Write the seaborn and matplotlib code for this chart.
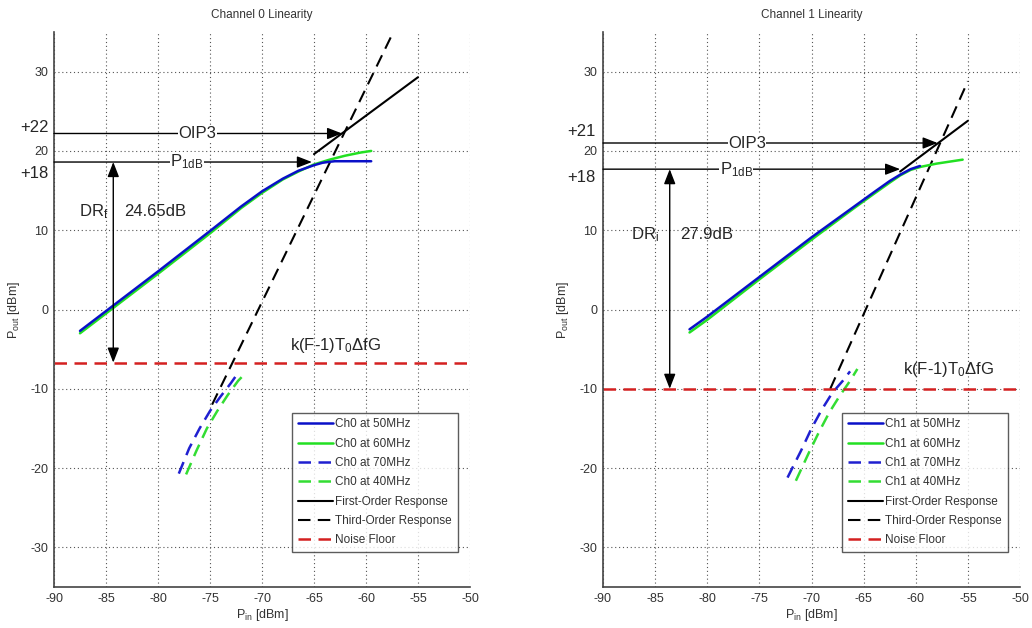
import numpy as np
import pandas as pd
import matplotlib
matplotlib.use("Agg")
import matplotlib.pyplot as plt
import seaborn as sns

# ---------------- data ----------------
# Channel 0
ch0_x_50 = [-87.5, -85, -80, -75, -72, -70, -68, -66.5, -65, -64.2, -63.7, -63, -61, -59.5]
ch0_y_50 = [-2.7, -0.2, 4.8, 9.9, 13.0, 14.9, 16.5, 17.5, 18.2, 18.5, 18.6, 18.7, 18.7, 18.7]
ch0_x_60 = [-87.5, -85, -80, -75, -72, -70, -68, -66.5, -65, -63.5, -62, -60.5, -59.5]
ch0_y_60 = [-3.0, -0.5, 4.5, 9.6, 12.8, 14.7, 16.4, 17.4, 18.3, 18.9, 19.4, 19.8, 20.0]
ch0_x_70 = [-78.0, -77.0, -76.0, -75.0, -74.0, -73.0, -72.3]
ch0_y_70 = [-20.7, -17.5, -15.0, -12.8, -11.0, -9.3, -8.0]
ch0_x_40 = [-77.3, -76.3, -75.3, -74.3, -73.3, -72.3, -71.5]
ch0_y_40 = [-20.8, -17.8, -15.0, -12.8, -10.8, -9.0, -7.9]
ch0_first_x = [-65.0, -55.0]
ch0_first_y = [19.6, 29.3]
ch0_third_x = [-74.8, -57.0]
ch0_third_y = [-12.0, 36.0]
ch0_noise = -6.7
ch0_oip3 = (-62.3, 22.2)
ch0_p1db = (-65.2, 18.6)
ch0_dr_x = -84.3
ch0_dr_text = "24.65dB"

# Channel 1
ch1_x_50 = [-81.7, -80, -75, -70, -66, -64, -62.5, -61.5, -60.5, -59.6]
ch1_y_50 = [-2.5, -0.9, 4.1, 9.1, 12.9, 14.8, 16.2, 17.0, 17.7, 18.1]
ch1_x_60 = [-81.7, -80, -75, -70, -66, -64, -62.5, -61.5, -60.5, -59.5, -58, -56.5, -55.5]
ch1_y_60 = [-2.9, -1.3, 3.8, 8.8, 12.7, 14.6, 16.0, 16.9, 17.6, 18.0, 18.4, 18.7, 18.9]
ch1_x_70 = [-72.3, -71.0, -70.0, -69.0, -68.0, -67.0, -66.3]
ch1_y_70 = [-21.2, -17.8, -15.0, -12.6, -10.5, -9.0, -7.8]
ch1_x_40 = [-71.5, -70.3, -69.3, -68.3, -67.3, -66.3, -65.6]
ch1_y_40 = [-21.6, -18.2, -15.5, -13.0, -10.9, -9.0, -7.5]
ch1_first_x = [-61.5, -55.0]
ch1_first_y = [17.4, 23.8]
ch1_third_x = [-68.2, -55.0]
ch1_third_y = [-10.0, 28.8]
ch1_noise = -10.0
ch1_oip3 = (-57.9, 21.0)
ch1_p1db = (-61.5, 17.7)
ch1_dr_x = -83.6
ch1_dr_text = "27.9dB"

x_ticks = [-90, -85, -80, -75, -70, -65, -60, -55, -50]
y_ticks = [-30, -20, -10, 0, 10, 20, 30]

# ---------------- style ----------------
sns.set_style("white")
plt.rcParams['font.family'] = ['Liberation Sans Narrow', 'Liberation Sans', 'DejaVu Sans']
plt.rcParams['mathtext.fontset'] = 'custom'
plt.rcParams['mathtext.rm'] = 'Liberation Sans'
plt.rcParams['mathtext.it'] = 'Liberation Sans'

fig = plt.figure(figsize=(10.32, 6.28), dpi=100)
axL = fig.add_axes([54/1032, 1-587/628, (470-54)/1032, (587-32)/628])
axR = fig.add_axes([603/1032, 1-587/628, (1020-603)/1032, (587-32)/628])

BLUE = "#0a10c8"
GREEN = "#22e022"
DBLUE = "#2020d0"
LGREEN = "#33dd33"


def draw(ax, ch, xs50, ys50, xs60, ys60, xs70, ys70, xs40, ys40,
         fx, fy, tx, ty, noise, oip3, p1db, drx, drtext,
         oip_lbl, oip_lbl_y, p1_lbl, p1_lbl_y, dr_lbl, dr_y, k_pos, title):
    def line(xs, ys, color, ls, label, lw=1.8, z=2):
        df = pd.DataFrame({"x": xs, "y": ys})
        sns.lineplot(data=df, x="x", y="y", ax=ax, color=color, linestyle=ls,
                     linewidth=lw, label=label, sort=False, estimator=None, zorder=z)

    line(xs50, ys50, BLUE, "-", f"Ch{ch} at 50MHz", z=3)
    line(xs60, ys60, GREEN, "-", f"Ch{ch} at 60MHz", z=2.5)
    line(xs70, ys70, DBLUE, (0, (5, 3)), f"Ch{ch} at 70MHz")
    line(xs40, ys40, LGREEN, (0, (5, 3)), f"Ch{ch} at 40MHz")
    line(fx, fy, "black", "-", "First-Order Response", lw=1.5)
    line(tx, ty, "black", (0, (6, 3.5)), "Third-Order Response", lw=1.5)
    dfn = pd.DataFrame({"x": [-90, -50], "y": [noise, noise]})
    sns.lineplot(data=dfn, x="x", y="y", ax=ax, color="#d42020",
                 linestyle=(0, (5, 3)), linewidth=1.8, label="Noise Floor",
                 sort=False, estimator=None)

    ax.set_xlim(-90, -50)
    ax.set_ylim(-35, 35)
    ax.set_xticks(x_ticks)
    ax.set_yticks(y_ticks)
    ax.set_xticklabels([str(t) for t in x_ticks])
    ax.set_yticklabels([str(t) for t in y_ticks])
    ax.grid(True, linestyle=(0, (1, 2.5)), color="#555555", linewidth=0.8)
    ax.set_axisbelow(True)
    for s in ["top", "right"]:
        ax.spines[s].set_visible(False)
    for s in ["left", "bottom"]:
        ax.spines[s].set_color("#444444")
        ax.spines[s].set_linewidth(1.2)
    ax.tick_params(axis="both", labelsize=9, direction="in", length=3,
                   color="#444444", labelcolor="#333333", pad=4)
    ax.set_xlabel("P$_{\\mathrm{in}}$ [dBm]", fontsize=9, color="#333333", labelpad=2)
    ax.set_ylabel("P$_{\\mathrm{out}}$ [dBm]", fontsize=9, color="#333333", labelpad=6)
    ax.set_title(title, fontsize=8.5, color="#333333", pad=10)

    arrow = dict(arrowstyle="-|>,head_length=0.9,head_width=0.35", color="black",
                 lw=1.0, shrinkA=0, shrinkB=0)
    # OIP3 arrow
    ax.annotate("", xy=oip3, xytext=(-90, oip3[1]), arrowprops=arrow)
    ax.text(-76.2, oip3[1], "OIP3", fontsize=12, ha="center", va="center",
            family=["Liberation Sans", "DejaVu Sans"],
            bbox=dict(facecolor="white", edgecolor="none", pad=0.3))
    # P1dB arrow
    ax.annotate("", xy=p1db, xytext=(-90, p1db[1]), arrowprops=arrow)
    ax.text(-77.2, p1db[1], "P$_{\\mathrm{1dB}}$", fontsize=12, ha="center", va="center",
            family=["Liberation Sans", "DejaVu Sans"],
            bbox=dict(facecolor="white", edgecolor="none", pad=0.3))
    # dynamic range arrow
    ax.annotate("", xy=(drx, noise), xytext=(drx, p1db[1]),
                arrowprops=dict(arrowstyle="<|-|>,head_length=0.9,head_width=0.35",
                                color="black", lw=1.0, shrinkA=0, shrinkB=0))
    ax.text(dr_lbl, dr_y, "DR$_{\\mathrm{f}}$" if ch == 0 else "DR$_{\\mathrm{i}}$",
            fontsize=12, ha="left", va="center", family=["Liberation Sans", "DejaVu Sans"])
    ax.text(drx + 1.0, dr_y, drtext, fontsize=12, ha="left", va="center",
            family=["Liberation Sans", "DejaVu Sans"])
    ax.text(k_pos[0], k_pos[1], "k(F-1)T$_{0}$ΔfG", fontsize=12, ha="left", va="center",
            family=["Liberation Sans", "DejaVu Sans"])
    # side labels
    ax.text(oip_lbl[0], oip_lbl_y, oip_lbl[1], fontsize=12, ha="right", va="center",
            clip_on=False, family=["Liberation Sans", "DejaVu Sans"])
    ax.text(p1_lbl[0], p1_lbl_y, p1_lbl[1], fontsize=12, ha="right", va="center",
            clip_on=False, family=["Liberation Sans", "DejaVu Sans"])

    leg = ax.legend(loc="lower right", bbox_to_anchor=(0.985, 0.052), fontsize=8.5,
                    frameon=True, fancybox=False, handlelength=3.0, handletextpad=0.2,
                    labelspacing=0.62, borderpad=0.5)
    leg.get_frame().set_edgecolor("#333333")
    leg.get_frame().set_linewidth(1.0)
    for t in leg.get_texts():
        t.set_color("#333333")


draw(axL, 0, ch0_x_50, ch0_y_50, ch0_x_60, ch0_y_60, ch0_x_70, ch0_y_70,
     ch0_x_40, ch0_y_40, ch0_first_x, ch0_first_y, ch0_third_x, ch0_third_y,
     ch0_noise, ch0_oip3, ch0_p1db, ch0_dr_x, ch0_dr_text,
     (-90.55, "+22"), 23.0, (-90.55, "+18"), 17.2, -87.6, 12.3, (-67.3, -4.6),
     "Channel 0 Linearity")
draw(axR, 1, ch1_x_50, ch1_y_50, ch1_x_60, ch1_y_60, ch1_x_70, ch1_y_70,
     ch1_x_40, ch1_y_40, ch1_first_x, ch1_first_y, ch1_third_x, ch1_third_y,
     ch1_noise, ch1_oip3, ch1_p1db, ch1_dr_x, ch1_dr_text,
     (-90.7, "+21"), 22.4, (-90.7, "+18"), 16.6, -87.3, 9.4, (-61.2, -7.6),
     "Channel 1 Linearity")

fig.savefig("out.png", dpi=100)
